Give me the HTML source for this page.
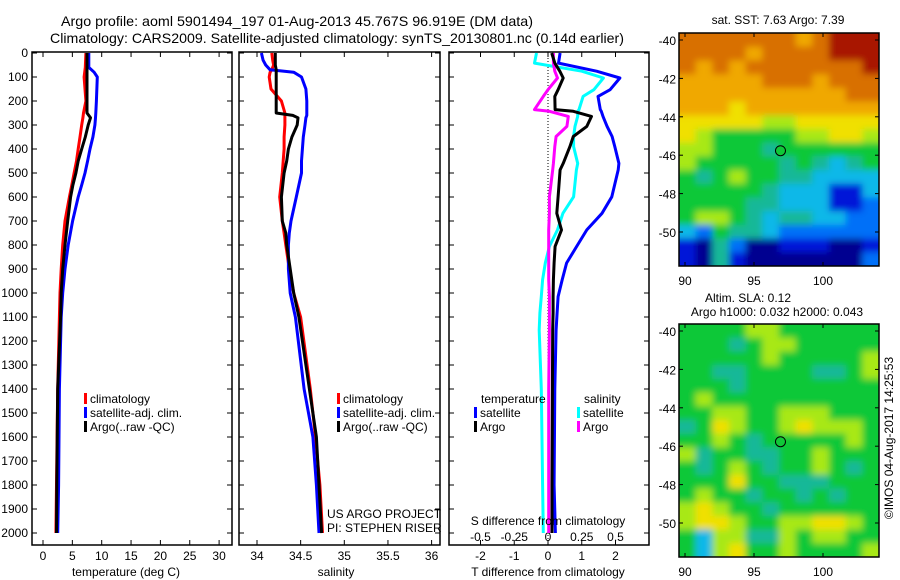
<!DOCTYPE html>
<html><head><meta charset="utf-8"><style>
html,body{margin:0;padding:0;background:#fff}
svg{display:block;font-family:"Liberation Sans",sans-serif}
</style></head><body>
<svg id="c" width="900" height="580" viewBox="0 0 900 580">
<defs>
<filter id="bl" x="-5%" y="-5%" width="110%" height="110%"><feGaussianBlur stdDeviation="3.5"/></filter>
<clipPath id="cp1"><rect x="679" y="33" width="200" height="233"/></clipPath>
<clipPath id="cp2"><rect x="679" y="324" width="200" height="233"/></clipPath>
</defs>
<text x="61" y="26" font-size="14" textLength="472" lengthAdjust="spacingAndGlyphs">Argo profile: aoml 5901494_197 01-Aug-2013 45.767S 96.919E (DM data)</text>
<text x="50" y="43" font-size="14" textLength="574" lengthAdjust="spacingAndGlyphs">Climatology: CARS2009. Satellite-adjusted climatology: synTS_20130801.nc (0.14d earlier)</text>
<g id="g"></g>
</svg>
<script>
// ---------- data ----------
const tDepth=[0,60,80,100,200,250,270,300,350,400,450,500,550,600,700,800,900,1000,1100,1400,1800,2000];
const tArgo=[7.5,7.5,7.5,7.5,7.5,7.5,8.1,7.7,7.2,6.6,6.0,5.6,5.1,4.7,4.2,3.75,3.35,3.1,3.0,2.5,2.35,2.3];
const tClim=[7.3,7.2,7.1,7.0,7.3,6.9,6.8,6.6,6.3,6.0,5.7,5.3,4.9,4.5,3.75,3.35,3.1,2.9,2.8,2.5,2.3,2.2];
const tSat=[7.8,7.8,8.7,9.25,9.1,9.0,8.95,8.85,8.5,8.0,7.6,7.15,6.6,6.0,5.05,4.3,3.75,3.35,3.1,2.8,2.65,2.5];
const sDepth=[0,30,50,70,80,100,150,200,250,260,270,300,350,400,450,500,600,700,750,800,900,1000,1100,1400,1600,1800,2000];
const sArgo=[34.21,34.21,34.21,34.22,34.22,34.22,34.22,34.22,34.22,34.41,34.47,34.46,34.40,34.36,34.34,34.31,34.28,34.29,34.33,34.34,34.38,34.42,34.48,34.60,34.68,34.71,34.74];
const sClim=[34.17,34.18,34.19,34.17,34.15,34.14,34.16,34.28,34.32,34.32,34.32,34.32,34.31,34.31,34.30,34.29,34.26,34.29,34.31,34.33,34.37,34.42,34.50,34.61,34.67,34.72,34.75];
const sSat=[34.05,34.07,34.10,34.15,34.42,34.51,34.56,34.57,34.57,34.57,34.56,34.55,34.53,34.52,34.51,34.51,34.45,34.39,34.37,34.36,34.36,34.38,34.44,34.54,34.64,34.68,34.71];
const dDepth=[0,42,76,104,153,181,236,243,264,306,348,390,460,487,599,668,737,806,875,945,1015,1083,1154,1400,1800,2000];
const dTSat=[0.36,0.31,1.44,2.13,1.84,1.48,1.55,1.58,1.63,1.75,1.9,1.98,2.1,2.08,1.89,1.6,1.15,0.85,0.55,0.42,0.3,0.27,0.24,0.2,0.18,0.22];
const dTArgo=[0.11,0.2,0.35,0.45,0.3,0.2,0.21,0.75,1.29,1.15,0.75,0.65,0.45,0.36,0.3,0.26,0.4,0.21,0.18,0.16,0.15,0.15,0.14,0.13,0.12,0.12];
const dSSat=[-0.085,-0.1,0.25,0.41,0.34,0.26,0.23,0.22,0.22,0.2,0.19,0.19,0.22,0.21,0.19,0.11,0.07,0.01,-0.02,-0.04,-0.05,-0.06,-0.065,-0.05,-0.04,-0.035];
const dSArgo=[0.04,0.04,0.05,0.07,0.0,-0.035,-0.1,0.01,0.15,0.14,0.06,0.05,0.04,0.035,0.01,0.01,0.005,0.005,0.005,0.005,0.01,0.01,0.01,0.005,0.005,0.005];
const depthTicks=[0,100,200,300,400,500,600,700,800,900,1000,1100,1200,1300,1400,1500,1600,1700,1800,1900,2000];
const tempTicks=[0,5,10,15,20,25,30];
const salTicks=["34","34.5","35","35.5","36"];
const tdTicks=["-2","-1","0","1","2"];
const sdTicks=["-0.5","-0.25","0","0.25","0.5"];
const lonTicks=[90,95,100];
const latTicks=[-40,-42,-44,-46,-48,-50];
const sstGrid=[
[9,9,9,9,9,9,9,8,9,10,10,10],[9,9,9,9,8,9,9,9,9,10,10,10],[9,8,9,8,9,9,9,9,9,9,9,10],
[8,8,8,8,8,9,9,9,8,9,9,9],[8,8,8,8,8,8,8,8,8,8,9,9],[8,8,8,7,8,8,8,8,8,8,8,8],
[7,7,7,7,7,6,6,7,7,7,7,7],[7,6,5,5,5,5,5,6,6,7,7,6],[6,6,5,5,5,4,5,5,5,5,5,5],
[6,5,5,5,5,5,4,5,4,3,4,5],[5,4,5,6,5,5,4,4,3,3,3,3],[5,5,5,5,5,4,3,3,3,1,1,3],
[5,5,5,5,4,4,3,3,3,1,1,2],[5,6,6,5,4,3,4,4,3,3,2,2],[3,2,5,4,4,3,2,2,2,2,2,2],
[1,0,4,2,0,0,1,1,1,0,0,1],[1,0,4,1,0,0,0,0,0,0,0,2]];
const slaGrid=[
[5,5,5,5,6,6,5,5,5,5,5,5],[5,5,5,4,5,6,6,5,5,5,5,5],[5,5,5,5,5,6,5,5,5,5,5,6],
[5,5,4,4,5,5,5,5,4,4,5,6],[5,5,5,4,5,5,5,5,5,5,5,5],[5,6,5,5,5,5,5,5,5,5,5,5],
[5,5,6,6,5,5,6,6,6,5,5,5],[4,5,7,6,5,5,6,7,6,6,6,5],[5,5,6,5,4,5,5,5,5,5,6,5],
[6,4,5,5,4,4,5,5,6,5,5,5],[5,4,5,6,5,4,5,5,6,5,4,5],[5,5,5,7,5,5,4,4,4,5,5,5],
[5,6,5,5,4,5,5,4,5,4,5,5],[6,7,6,5,5,4,5,5,5,5,5,5],[6,7,7,6,5,5,6,6,7,7,6,5],
[5,3,6,6,4,4,6,5,6,6,5,5],[5,3,6,7,5,5,6,5,5,5,5,6]];
const floatLon=96.919, floatLat=-45.767;

// ---------- helpers ----------
const NS="http://www.w3.org/2000/svg";
const G=document.getElementById('g');
function mk(tag,at,parent){const e=document.createElementNS(NS,tag);for(const k in at)e.setAttribute(k,at[k]);(parent||G).appendChild(e);return e;}
function txt(x,y,s,anchor,size){const e=mk('text',{x:x,y:y,'font-size':size||12,'text-anchor':anchor||'start'});e.textContent=s;return e;}
const yD=d=>53+d*0.24;
const TOP=52,BOT=545;
const xT=v=>43+v*5.87;
const xS=v=>257+(v-34)*87.3;
const xTD=v=>548+v*33.75;
const xSD=v=>548+v*135;
const pal=["#000090","#0018d8","#0070f8","#10b8e8","#18b898","#10c838","#a8e818","#f0e000","#f0a800","#d87000","#a81800"];

function frame(x0,x1,name){
  const r=mk('rect',{x:x0,y:TOP,width:x1-x0,height:BOT-TOP,fill:'none',stroke:'#000','stroke-width':1.5});
  
  
  depthTicks.forEach(d=>{mk('line',{x1:x0,x2:x0+5,y1:yD(d),y2:yD(d),stroke:'#000'});mk('line',{x1:x1-5,x2:x1,y1:yD(d),y2:yD(d),stroke:'#000'});});
}
function line(xs,ds,fx,color,name){
  const p=mk('polyline',{points:xs.map((v,i)=>fx(v).toFixed(1)+','+yD(ds[i]).toFixed(1)).join(' '),fill:'none',stroke:color,'stroke-width':3,'stroke-linejoin':'round'});
  
  
}
function leg(x,y,color,label,name){
  const g=mk('g',{});
  
  
  mk('rect',{x:x,y:y-10,width:3,height:11,fill:color},g);
  const t=mk('text',{x:x+6,y:y,'font-size':12},g);t.textContent=label;
}

// ---------- panel 1 temperature ----------
frame(32,232,'temperature-panel-frame');
depthTicks.forEach(d=>{const t=txt(28,yD(d)+4,String(d),'end');});
tempTicks.forEach(v=>{const x=xT(v);mk('line',{x1:x,x2:x,y1:TOP,y2:TOP+5,stroke:'#000'});mk('line',{x1:x,x2:x,y1:BOT-5,y2:BOT,stroke:'#000'});txt(x,560,String(v),'middle');});
const t1=txt(126,576,'temperature (deg C)','middle');


line(tClim,tDepth,xT,'#ff0000','temp-climatology-line');
line(tSat,tDepth,xT,'#0000ff','temp-satellite-line');
line(tArgo,tDepth,xT,'#000000','temp-argo-line');
leg(84,403,'#ff0000','climatology','legend-climatology');
leg(84,417,'#0000ff','satellite-adj. clim.','legend-satellite');
leg(84,431,'#000','Argo(..raw -QC)','legend-argo');

// ---------- panel 2 salinity ----------
frame(239,440,'salinity-panel-frame');
salTicks.forEach(s=>{const x=xS(parseFloat(s));mk('line',{x1:x,x2:x,y1:TOP,y2:TOP+5,stroke:'#000'});mk('line',{x1:x,x2:x,y1:BOT-5,y2:BOT,stroke:'#000'});txt(x,560,s,'middle');});
const t2=txt(336,576,'salinity','middle');


line(sClim,sDepth,xS,'#ff0000','sal-climatology-line');
line(sSat,sDepth,xS,'#0000ff','sal-satellite-line');
line(sArgo,sDepth,xS,'#000000','sal-argo-line');
leg(337,403,'#ff0000','climatology','legend-climatology-2');
leg(337,417,'#0000ff','satellite-adj. clim.','legend-satellite-2');
leg(337,431,'#000','Argo(..raw -QC)','legend-argo-2');
const pj=txt(327,518,'US ARGO PROJECT');
const pi=txt(327,532,'PI: STEPHEN RISER');

// ---------- panel 3 differences ----------
frame(449,649,'difference-panel-frame');
mk('line',{x1:548,x2:548,y1:TOP,y2:BOT,stroke:'#000','stroke-dasharray':'1,2'});
tdTicks.forEach(s=>{const x=xTD(parseFloat(s));mk('line',{x1:x,x2:x,y1:BOT-5,y2:BOT,stroke:'#000'});txt(x,560,s,'middle');});
sdTicks.forEach(s=>{const x=xSD(parseFloat(s));mk('line',{x1:x,x2:x,y1:TOP,y2:TOP+5,stroke:'#000'});txt(x,541,s,'middle');});
const t3=txt(548,576,'T difference from climatology','middle');


line(dSSat,dDepth,xSD,'#00ffff','sdiff-satellite-line');
line(dSArgo,dDepth,xSD,'#ff00ff','sdiff-argo-line');
line(dTSat,dDepth,xTD,'#0000ff','tdiff-satellite-line');
line(dTArgo,dDepth,xTD,'#000000','tdiff-argo-line');
const t4=txt(548,525,'S difference from climatology','middle');


txt(481,403,'temperature');txt(584,403,'salinity');
leg(474,417,'#0000ff','satellite','legend-tdiff-satellite');
leg(474,431,'#000','Argo','legend-tdiff-argo');
leg(577,417,'#00ffff','satellite','legend-sdiff-satellite');
leg(577,431,'#ff00ff','Argo','legend-sdiff-argo');

// ---------- maps ----------
function map(y0,grid,name,clip){
  const X0=679,X1=879,H=233,y1=y0+H;
  const lonX=l=>685+(l-90)*13.8;
  const latY=l=>y0+7+(-40-l)*19.2;
  const g=mk('g',{});
  
  
  const cg=mk('g',{'clip-path':'url(#'+clip+')'},g);
  const cells=mk('g',{filter:'url(#bl)'},cg);
  const rows=grid.length,cols=grid[0].length,cw=(X1-X0)/cols,ch=H/rows;
  grid.forEach((r,i)=>r.forEach((v,j)=>{
    let x=X0+j*cw,y=y0+i*ch,w=cw+0.6,h=ch+0.6;
    if(j===0){x-=8;w+=8;} if(j===cols-1){w+=8;}
    if(i===0){y-=8;h+=8;} if(i===rows-1){h+=8;}
    mk('rect',{x:x.toFixed(2),y:y.toFixed(2),width:w.toFixed(2),height:h.toFixed(2),fill:pal[v]},cells);
  }));
  mk('rect',{x:X0,y:y0,width:X1-X0,height:H,fill:'none',stroke:'#000','stroke-width':1.5},g);
  lonTicks.forEach(l=>{const x=lonX(l);mk('line',{x1:x,x2:x,y1:y1-4,y2:y1,stroke:'#000'},g);mk('line',{x1:x,x2:x,y1:y0,y2:y0+4,stroke:'#000'},g);txt(x,y1+19,String(l),'middle');});
  latTicks.forEach(l=>{const y=latY(l);mk('line',{x1:X0,x2:X0+4,y1:y,y2:y,stroke:'#000'},g);mk('line',{x1:X1-4,x2:X1,y1:y,y2:y,stroke:'#000'},g);txt(676,y+5,String(l),'end');});
  const c=mk('circle',{cx:lonX(floatLon),cy:latY(floatLat),r:5,fill:'#10c838',stroke:'#000','stroke-width':1},g);
  
  
}
map(33,sstGrid,'sst-map','cp1');
map(324,slaGrid,'sla-map','cp2');
const m1=txt(778,24,'sat. SST: 7.63 Argo: 7.39','middle');
const m2=txt(748,302,'Altim. SLA: 0.12','middle');
const m3=txt(777,316,'Argo h1000: 0.032 h2000: 0.043','middle');
const cp=mk('text',{x:0,y:0,'font-size':12,'text-anchor':'middle',transform:'translate(893,438) rotate(-90)'});
cp.textContent='©IMOS 04-Aug-2017 14:25:53';


</script>
</body></html>
